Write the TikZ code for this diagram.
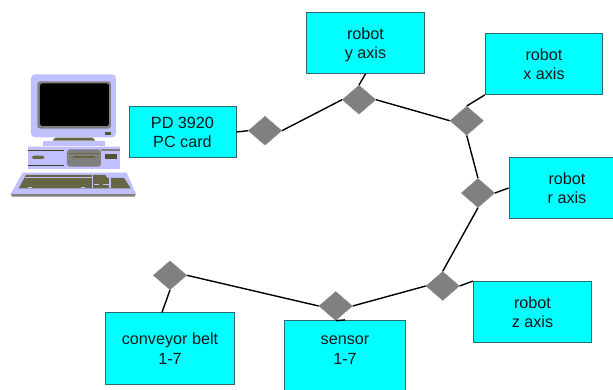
\documentclass[tikz,border=0pt]{standalone}
\usepackage{fontspec}
\setmainfont{Liberation Sans}
\usetikzlibrary{shapes.geometric}
\definecolor{boxcyan}{HTML}{00FFFF}
\definecolor{boxedge}{HTML}{2F6A6E}
\definecolor{lilac}{HTML}{C0C0FF}
\definecolor{olive}{HTML}{666645}
\definecolor{midgray}{HTML}{808080}
\tikzset{
  cardtext/.style={inner sep=0pt,align=center,font=\fontsize{16.2}{19.4}\selectfont,text=black!90,text height=34pt,text depth=3pt},
  cardbox/.style={cardtext,draw=boxedge,line width=0.8pt,fill=boxcyan,rectangle},
  tap/.style={diamond,draw=midgray!90,line width=0.4pt,fill=midgray,inner sep=0pt,minimum width=33.5pt,minimum height=29pt},
  wire/.style={draw=black,line width=1.4pt}
}
\begin{document}
\begin{tikzpicture}[x=1pt,y=-1pt]
\useasboundingbox (0,0) rectangle (613,389);
\clip (0,0) rectangle (613,389);
\fill[white] (0,0) rectangle (613,389);
% computer, drawn in 3x zoom coordinates
\begin{scope}[shift={(0,60)},x=0.3333pt,y=-0.3333pt]
  % monitor
  \fill[lilac,rounded corners=4pt] (93,43) rectangle (348,232);
  \fill[midgray,rounded corners=3pt] (112,64) rectangle (333,206);
  \fill[black,rounded corners=2.5pt] (120,70) rectangle (327,198);
  \fill[olive!80!black] (316,216) rectangle (334,226);
  \fill[olive] (158,242) -- (166,233) -- (278,233) -- (286,242) -- cycle;
  \fill[lilac] (128,242) rectangle (315,258);
  % case
  \fill[lilac] (84,258) rectangle (360,328);
  \fill[white!60!lilac] (84,258) rectangle (360,262);
  \fill[olive!60!black] (84,270) rectangle (192,273);
  \fill[olive!60!black] (84,315) rectangle (192,318);
  \fill[midgray] (304,267) rectangle (360,272);
  \fill[midgray,rounded corners=3pt] (201,268) rectangle (303,320);
  \fill[olive] (206,278) rectangle (298,282);
  \fill[olive] (220,289) rectangle (286,293);
  \fill[olive!80!black] (316,283) rectangle (350,298);
  \fill[olive] (94,292) -- (102,287) -- (128,287) -- (134,292) -- (128,297) -- (102,297) -- cycle;
  % keyboard
  \fill[midgray] (32,400) -- (408,400) -- (404,410) -- (36,410) -- cycle;
  \fill[lilac] (68,338) -- (380,338) -- (408,402) -- (32,402) -- cycle;
  \fill[olive] (78,345) -- (316,345) -- (322,354) -- (372,354) -- (392,385) -- (56,385) -- cycle;
  \fill[lilac] (75,351) rectangle (276,354);
  \fill[lilac] (275,345) rectangle (280,385);
  \fill[lilac] (328,352) rectangle (334,385);
  \fill[lilac] (282,371) rectangle (298,374);
  \fill[lilac] (310,371) rectangle (328,374);
  \fill[lilac] (84,380) rectangle (95,385);
  \fill[lilac] (244,380) rectangle (255,385);
\end{scope}
% boxes
\node[cardbox,minimum width=107pt,minimum height=51pt] (pd) at (182.5,132) {PD 3920\\PC card};
\node[cardbox,minimum width=117.5pt,minimum height=61pt] (yax) at (365.5,43) {robot\\y axis};
\node[cardbox,minimum width=117.5pt,minimum height=61pt] (xax) at (544,64) {robot\\x axis};
\node[cardbox,minimum width=116pt,minimum height=61pt] (rax) at (567,188) {robot\\r axis};
\node[cardbox,minimum width=118.5pt,minimum height=61pt] (zax) at (532.5,312) {robot\\z axis};
\node[cardbox,minimum width=129pt,minimum height=71.5pt] (conv) at (170,348.5) {conveyor belt\\1-7};
\node[cardbox,minimum width=121.5pt,minimum height=80pt,text height=0pt,text depth=0pt] (sen) at (345,360.3) {};
\node[cardtext] (sentxt) at (345,348.5) {sensor\\1-7};
% taps
\node[tap] (d1) at (265,130.7) {};
\node[tap] (d2) at (359,99.7) {};
\node[tap] (d3) at (466.7,120.7) {};
\node[tap] (d4) at (478,193) {};
\node[tap] (d5) at (442.7,286) {};
\node[tap] (d6) at (335.7,306) {};
\node[tap] (d7) at (170,275.3) {};
% connectors
\draw[wire] (pd.east) -- (d1.west);
\draw[wire] (d1.east) -- (d2.west);
\draw[wire] (d2.north) -- (yax.south);
\draw[wire] (d2.east) -- (d3.west);
\draw[wire] (d3.north) -- (xax.south west);
\draw[wire] (d3.south) -- (d4.north);
\draw[wire] (d4.east) -- (rax.west);
\draw[wire] (d4.south) -- (d5.north);
\draw[wire] (d5.east) -- (zax.north west);
\draw[wire] (d5.west) -- (d6.east);
\draw[wire] (d6.south) -- (sen.north);
\draw[wire] (d6.west) -- (d7.east);
\draw[wire] (d7.south) -- ([xshift=-8pt]conv.north);
\end{tikzpicture}
\end{document}
